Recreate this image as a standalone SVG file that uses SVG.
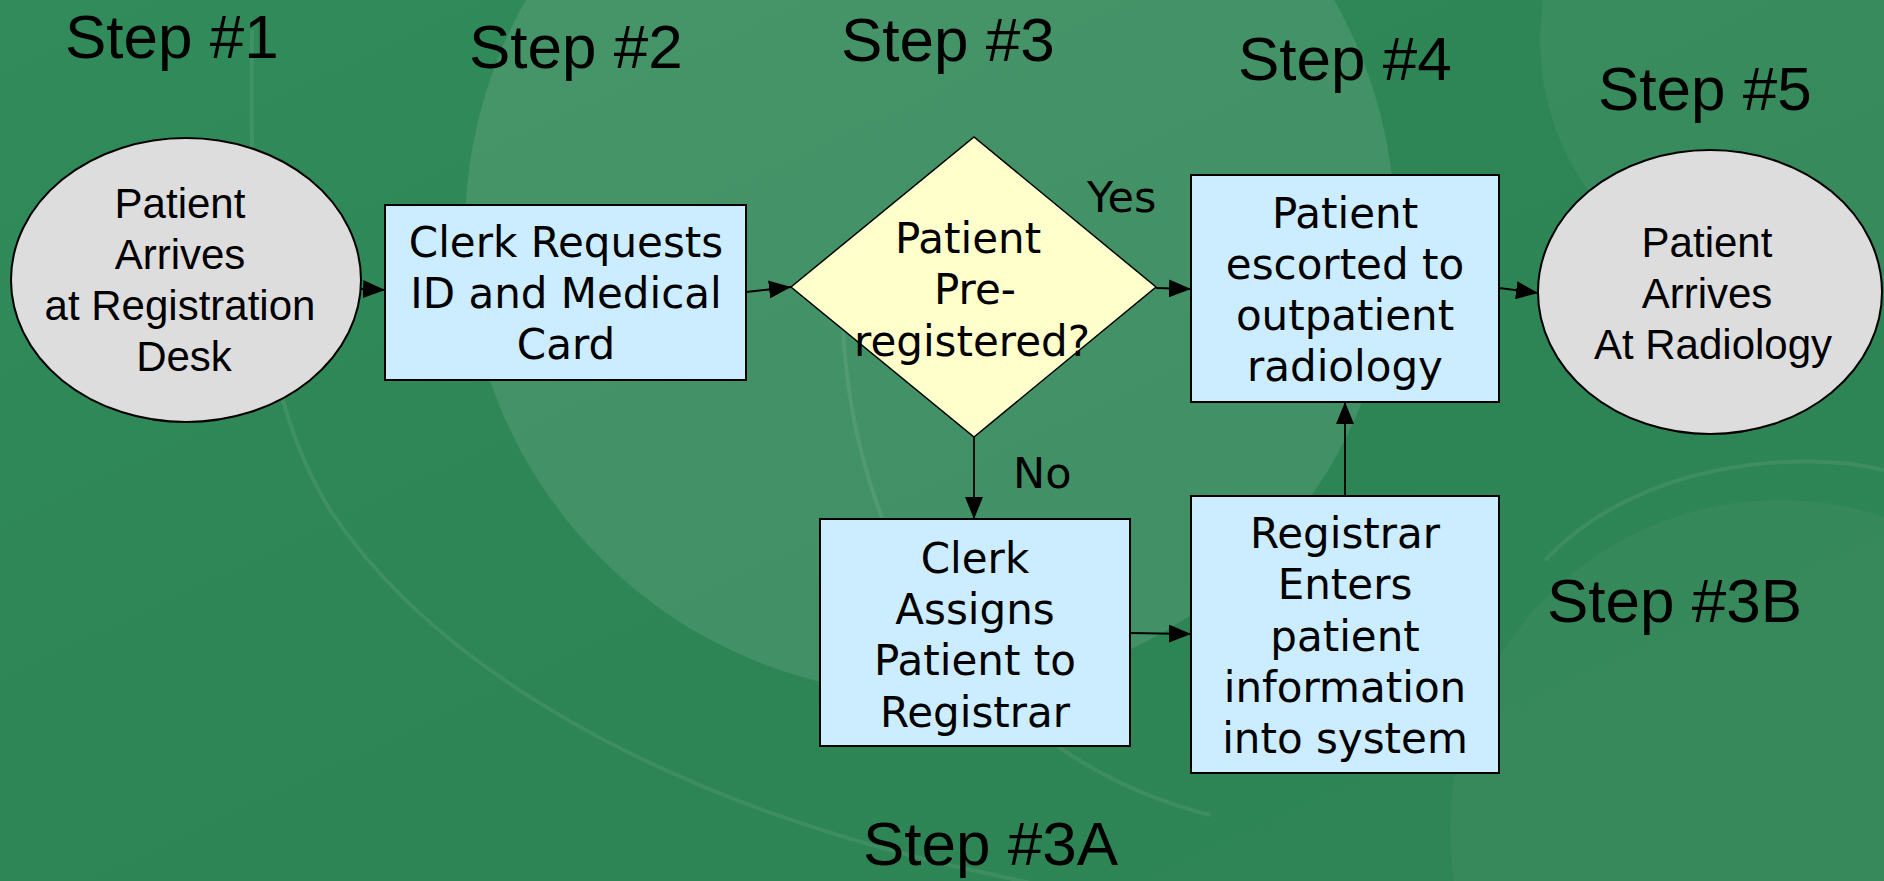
<svg xmlns="http://www.w3.org/2000/svg" width="1884" height="881" viewBox="0 0 1884 881">
  <defs>
    <linearGradient id="bg" x1="0" y1="0" x2="1" y2="1">
      <stop offset="0" stop-color="#318b5a"/>
      <stop offset="0.6" stop-color="#2d8454"/>
      <stop offset="1" stop-color="#2f8556"/>
    </linearGradient>
    <marker id="arrow" markerUnits="userSpaceOnUse" markerWidth="24" markerHeight="18" refX="22" refY="9" orient="auto">
      <path d="M0,0 L22,9 L0,18 z" fill="#000"/>
    </marker>
    <style>
      .step { font-family: "Liberation Sans", Arial, sans-serif; font-size: 62px; fill: #000; }
      .oval { fill: #dddddd; stroke: #000; stroke-width: 2; }
      .box { fill: #ccecff; stroke: #000; stroke-width: 2; }
      .dec { fill: #ffffcc; stroke: #000; stroke-width: 1.5; }
      .ot { font-family: "Liberation Sans", Arial, sans-serif; font-size: 42px; fill: #000; text-anchor: middle; }
      .bt { font-family: "DejaVu Sans", Verdana, sans-serif; font-size: 42px; fill: #000; text-anchor: middle; }
      .lbl { font-family: "DejaVu Sans", Verdana, sans-serif; font-size: 43px; fill: #000; }
      .conn line { stroke: #000; stroke-width: 1.8; marker-end: url(#arrow); }
      .arc { fill: none; stroke: #ffffff; stroke-opacity: 0.08; stroke-width: 4; }
    </style>
  </defs>

  <!-- background -->
  <g id="background">
    <rect width="1884" height="881" fill="url(#bg)"/>
    <circle cx="930" cy="230" r="465" fill="#ffffff" fill-opacity="0.1"/>
    <circle cx="1780" cy="830" r="330" fill="#ffffff" fill-opacity="0.04"/>
    <circle cx="1800" cy="40" r="260" fill="#ffffff" fill-opacity="0.05"/>
    <path class="arc" d="M 252 30 C 248 250, 262 400, 330 510 C 430 660, 640 790, 940 863 L 1040 885"/>
    <path class="arc" d="M 842 300 C 845 560, 990 760, 1210 815"/>
    <path class="arc" stroke-opacity="0.05" d="M 1545 560 C 1640 460, 1800 450, 1884 470"/>
  </g>

  <!-- step labels -->
  <g id="steps">
    <text class="step" x="65" y="58">Step #1</text>
    <text class="step" x="469" y="68">Step #2</text>
    <text class="step" x="841" y="61">Step #3</text>
    <text class="step" x="1238" y="80">Step #4</text>
    <text class="step" x="1598" y="110">Step #5</text>
    <text class="step" x="1547" y="622">Step #3B</text>
    <text class="step" x="863" y="865">Step #3A</text>
  </g>

  <!-- connectors -->
  <g id="connectors" class="conn">
    <line x1="361" y1="289" x2="385" y2="290"/>
    <line x1="746" y1="292" x2="791" y2="287"/>
    <line x1="1156" y1="288" x2="1191" y2="289"/>
    <line x1="1499" y1="288" x2="1538" y2="293"/>
    <line x1="974" y1="437" x2="974" y2="519"/>
    <line x1="1130" y1="633" x2="1191" y2="634"/>
    <line x1="1345" y1="496" x2="1345" y2="402"/>
  </g>
  <g id="edge-labels">
    <text class="lbl" x="1087" y="212">Yes</text>
    <text class="lbl" x="1013" y="488">No</text>
  </g>

  <!-- nodes -->
  <g id="n-arrive-desk">
    <ellipse class="oval" cx="186" cy="280" rx="175" ry="142"/>
    <text class="ot" x="180" y="218">Patient</text>
    <text class="ot" x="180" y="269">Arrives</text>
    <text class="ot" x="180" y="320">at Registration</text>
    <text class="ot" x="184" y="371">Desk</text>
  </g>

  <g id="n-request-id">
    <rect class="box" x="385" y="205" width="361" height="175"/>
    <text class="bt" x="566" y="257">Clerk Requests</text>
    <text class="bt" x="566" y="308">ID and Medical</text>
    <text class="bt" x="566" y="359">Card</text>
  </g>

  <g id="n-preregistered">
    <polygon class="dec" points="791,287 974,137 1156,287 974,437"/>
    <text class="bt" x="968" y="253">Patient</text>
    <text class="bt" x="975" y="304">Pre-</text>
    <text class="bt" x="972" y="356">registered?</text>
  </g>

  <g id="n-escorted">
    <rect class="box" x="1191" y="175" width="308" height="227"/>
    <text class="bt" x="1345" y="228">Patient</text>
    <text class="bt" x="1345" y="279">escorted to</text>
    <text class="bt" x="1345" y="330">outpatient</text>
    <text class="bt" x="1345" y="381">radiology</text>
  </g>

  <g id="n-arrive-radiology">
    <ellipse class="oval" cx="1710" cy="292" rx="172" ry="142"/>
    <text class="ot" x="1707" y="257">Patient</text>
    <text class="ot" x="1707" y="308">Arrives</text>
    <text class="ot" x="1713" y="359">At Radiology</text>
  </g>

  <g id="n-assign-registrar">
    <rect class="box" x="820" y="519" width="310" height="227"/>
    <text class="bt" x="975" y="573">Clerk</text>
    <text class="bt" x="975" y="624">Assigns</text>
    <text class="bt" x="975" y="675">Patient to</text>
    <text class="bt" x="975" y="727">Registrar</text>
  </g>

  <g id="n-enter-info">
    <rect class="box" x="1191" y="496" width="308" height="277"/>
    <text class="bt" x="1345" y="548">Registrar</text>
    <text class="bt" x="1345" y="599">Enters</text>
    <text class="bt" x="1345" y="651">patient</text>
    <text class="bt" x="1345" y="702">information</text>
    <text class="bt" x="1345" y="753">into system</text>
  </g>
</svg>
